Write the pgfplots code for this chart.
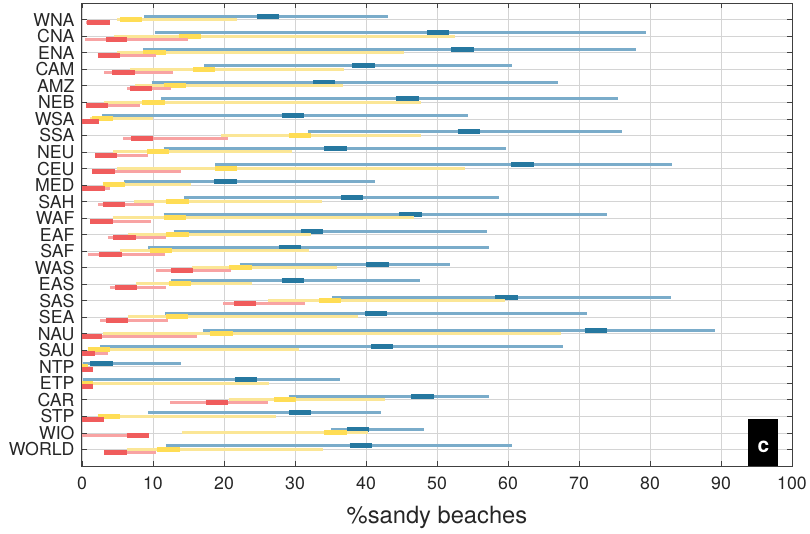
\documentclass[border=0pt]{standalone}
\usepackage{pgfplots}
\pgfplotsset{compat=1.18}
\usepackage{fontspec}
\setmainfont{TeX Gyre Heros}
\definecolor{bluelight}{RGB}{122,172,202}
\definecolor{bluedark}{RGB}{38,120,160}
\definecolor{yellowlight}{RGB}{251,230,150}
\definecolor{yellowdark}{RGB}{255,221,85}
\definecolor{redlight}{RGB}{248,163,163}
\definecolor{reddark}{RGB}{240,92,92}
\begin{document}
\begin{tikzpicture}
\path[use as bounding box] (-82bp,-68bp) rectangle (728bp,466bp);
\begin{axis}[
  at={(0,0)}, anchor=south west,
  scale only axis, width=710bp, height=462.7bp,
  xmin=0, xmax=100, ymin=0, ymax=28, y dir=reverse,
  xtick={0,10,...,100},
  ytick={1,...,27},
  yticklabels={WNA,CNA,ENA,CAM,AMZ,NEB,WSA,SSA,NEU,CEU,MED,SAH,WAF,EAF,SAF,WAS,EAS,SAS,SEA,NAU,SAU,NTP,ETP,CAR,STP,WIO,WORLD},
  xtick pos=both, ytick pos=both,
  xticklabel pos=bottom, yticklabel pos=left,
  tick align=inside, major tick length=5bp,
  tick style={black!75, line width=0.9bp},
  axis line style={black!75, line width=1bp},
  grid=major,
  major grid style={black!17, line width=0.9bp},
  /pgf/number format/assume math mode=true,
  ticklabel style={font=\fontsize{17.8}{18}\selectfont, text=black!85},
  xticklabel style={yshift=-7bp},
  yticklabel style={xshift=-4bp},
  xlabel={\%sandy beaches},
  xlabel style={at={(axis description cs:0.5,0)}, anchor=base, yshift=-57bp, font=\fontsize{23.8}{24}\selectfont, text=black!85},
  unbounded coords=jump,
]
% ---------- blue: thin range ----------
\addplot[bluelight, line width=3bp, mark=none] coordinates {
(8.7,0.78) (43.1,0.78) (nan,nan)
(10.3,1.78) (79.4,1.78) (nan,nan)
(8.6,2.78) (78.0,2.78) (nan,nan)
(17.2,3.78) (60.5,3.78) (nan,nan)
(9.8,4.78) (67.0,4.78) (nan,nan)
(11.1,5.78) (75.5,5.78) (nan,nan)
(2.8,6.78) (54.3,6.78) (nan,nan)
(31.9,7.78) (76.0,7.78) (nan,nan)
(11.5,8.78) (59.7,8.78) (nan,nan)
(18.8,9.78) (83.1,9.78) (nan,nan)
(5.9,10.78) (41.3,10.78) (nan,nan)
(14.4,11.78) (58.8,11.78) (nan,nan)
(11.5,12.78) (74.0,12.78) (nan,nan)
(12.9,13.78) (57.0,13.78) (nan,nan)
(9.3,14.78) (57.3,14.78) (nan,nan)
(22.2,15.78) (51.9,15.78) (nan,nan)
(12.5,16.78) (47.6,16.78) (nan,nan)
(35.2,17.78) (82.9,17.78) (nan,nan)
(11.7,18.78) (71.1,18.78) (nan,nan)
(17.1,19.78) (89.1,19.78) (nan,nan)
(2.6,20.78) (67.8,20.78) (nan,nan)
(0.2,21.78) (14.0,21.78) (nan,nan)
(0.1,22.78) (36.3,22.78) (nan,nan)
(29.1,23.78) (57.3,23.78) (nan,nan)
(9.3,24.78) (42.1,24.78) (nan,nan)
(35.1,25.78) (48.1,25.78) (nan,nan)
(11.8,26.78) (60.6,26.78)
};
% ---------- blue: thick segment ----------
\addplot[bluedark, line width=5bp, mark=none] coordinates {
(24.7,0.78) (27.8,0.78) (nan,nan)
(48.6,1.78) (51.7,1.78) (nan,nan)
(52.0,2.78) (55.2,2.78) (nan,nan)
(38.0,3.78) (41.2,3.78) (nan,nan)
(32.6,4.78) (35.6,4.78) (nan,nan)
(44.2,5.78) (47.4,5.78) (nan,nan)
(28.1,6.78) (31.3,6.78) (nan,nan)
(52.9,7.78) (56.1,7.78) (nan,nan)
(34.1,8.78) (37.3,8.78) (nan,nan)
(60.4,9.78) (63.6,9.78) (nan,nan)
(18.6,10.78) (21.8,10.78) (nan,nan)
(36.5,11.78) (39.6,11.78) (nan,nan)
(44.7,12.78) (47.9,12.78) (nan,nan)
(30.8,13.78) (33.9,13.78) (nan,nan)
(27.7,14.78) (30.9,14.78) (nan,nan)
(40.0,15.78) (43.2,15.78) (nan,nan)
(28.1,16.78) (31.3,16.78) (nan,nan)
(58.2,17.78) (61.4,17.78) (nan,nan)
(39.8,18.78) (42.9,18.78) (nan,nan)
(70.8,19.78) (73.9,19.78) (nan,nan)
(40.7,20.78) (43.8,20.78) (nan,nan)
(1.1,21.78) (4.3,21.78) (nan,nan)
(21.5,22.78) (24.6,22.78) (nan,nan)
(46.4,23.78) (49.6,23.78) (nan,nan)
(29.2,24.78) (32.3,24.78) (nan,nan)
(37.3,25.78) (40.4,25.78) (nan,nan)
(37.7,26.78) (40.9,26.78)
};
% ---------- yellow: thin range ----------
\addplot[yellowlight, line width=3bp, mark=none] coordinates {
(4.9,0.98) (21.8,0.98) (nan,nan)
(4.5,1.98) (52.5,1.98) (nan,nan)
(4.9,2.98) (45.3,2.98) (nan,nan)
(6.8,3.98) (36.9,3.98) (nan,nan)
(7.5,4.98) (36.8,4.98) (nan,nan)
(3.1,5.98) (47.8,5.98) (nan,nan)
(1.1,6.98) (10.0,6.98) (nan,nan)
(19.6,7.98) (47.8,7.98) (nan,nan)
(4.4,8.98) (29.6,8.98) (nan,nan)
(4.9,9.98) (54.0,9.98) (nan,nan)
(2.9,10.98) (15.3,10.98) (nan,nan)
(7.3,11.98) (33.8,11.98) (nan,nan)
(4.3,12.98) (46.7,12.98) (nan,nan)
(6.5,13.98) (32.3,13.98) (nan,nan)
(5.4,14.98) (32.0,14.98) (nan,nan)
(15.5,15.98) (35.9,15.98) (nan,nan)
(7.6,16.98) (24.0,16.98) (nan,nan)
(26.2,17.98) (59.6,17.98) (nan,nan)
(6.5,18.98) (38.9,18.98) (nan,nan)
(3.0,19.98) (67.4,19.98) (nan,nan)
(0.8,20.98) (30.6,20.98) (nan,nan)
(0.0,21.98) (0.9,21.98) (nan,nan)
(0.0,22.98) (26.3,22.98) (nan,nan)
(20.7,23.98) (42.7,23.98) (nan,nan)
(2.2,24.98) (27.3,24.98) (nan,nan)
(14.1,25.98) (40.3,25.98) (nan,nan)
(6.3,26.98) (33.9,26.98)
};
% ---------- yellow: thick segment ----------
\addplot[yellowdark, line width=5bp, mark=none] coordinates {
(5.4,0.98) (8.5,0.98) (nan,nan)
(13.6,1.98) (16.8,1.98) (nan,nan)
(8.6,2.98) (11.8,2.98) (nan,nan)
(15.7,3.98) (18.8,3.98) (nan,nan)
(11.5,4.98) (14.6,4.98) (nan,nan)
(8.5,5.98) (11.7,5.98) (nan,nan)
(1.4,6.98) (4.3,6.98) (nan,nan)
(29.1,7.98) (32.3,7.98) (nan,nan)
(9.2,8.98) (12.3,8.98) (nan,nan)
(18.7,9.98) (21.9,9.98) (nan,nan)
(2.9,10.98) (6.1,10.98) (nan,nan)
(11.8,11.98) (15.0,11.98) (nan,nan)
(11.5,12.98) (14.6,12.98) (nan,nan)
(11.8,13.98) (15.0,13.98) (nan,nan)
(9.6,14.98) (12.7,14.98) (nan,nan)
(20.7,15.98) (23.9,15.98) (nan,nan)
(12.2,16.98) (15.4,16.98) (nan,nan)
(33.4,17.98) (36.5,17.98) (nan,nan)
(11.8,18.98) (14.9,18.98) (nan,nan)
(18.0,19.98) (21.2,19.98) (nan,nan)
(0.8,20.98) (3.9,20.98) (nan,nan)
(0.0,21.98) (0.9,21.98) (nan,nan)
(0.0,22.98) (1.6,22.98) (nan,nan)
(27.1,23.98) (30.2,23.98) (nan,nan)
(2.2,24.98) (5.4,24.98) (nan,nan)
(34.1,25.98) (37.3,25.98) (nan,nan)
(10.5,26.98) (13.8,26.98)
};
% ---------- red: thin range ----------
\addplot[redlight, line width=3bp, mark=none] coordinates {
(0.6,1.18) (4.0,1.18) (nan,nan)
(0.4,2.18) (14.9,2.18) (nan,nan)
(2.2,3.18) (10.4,3.18) (nan,nan)
(3.1,4.18) (12.8,4.18) (nan,nan)
(6.4,5.18) (12.6,5.18) (nan,nan)
(0.6,6.18) (8.2,6.18) (nan,nan)
(0.0,7.18) (2.4,7.18) (nan,nan)
(5.8,8.18) (20.5,8.18) (nan,nan)
(1.8,9.18) (9.3,9.18) (nan,nan)
(1.4,10.18) (14.0,10.18) (nan,nan)
(0.0,11.18) (4.0,11.18) (nan,nan)
(2.3,12.18) (10.2,12.18) (nan,nan)
(1.1,13.18) (9.7,13.18) (nan,nan)
(3.6,14.18) (11.8,14.18) (nan,nan)
(0.9,15.18) (11.7,15.18) (nan,nan)
(10.4,16.18) (21.0,16.18) (nan,nan)
(3.9,17.18) (11.8,17.18) (nan,nan)
(19.9,18.18) (31.4,18.18) (nan,nan)
(2.6,19.18) (12.1,19.18) (nan,nan)
(0.0,20.18) (16.2,20.18) (nan,nan)
(0.0,21.18) (3.7,21.18) (nan,nan)
(0.0,22.18) (1.6,22.18) (nan,nan)
(0.0,23.18) (1.6,23.18) (nan,nan)
(12.4,24.18) (26.2,24.18) (nan,nan)
(0.0,25.18) (3.1,25.18) (nan,nan)
(0.0,26.18) (9.5,26.18) (nan,nan)
(3.1,27.18) (10.4,27.18)
};
% ---------- red: thick segment ----------
\addplot[reddark, line width=5bp, mark=none] coordinates {
(0.7,1.18) (3.9,1.18) (nan,nan)
(3.4,2.18) (6.4,2.18) (nan,nan)
(2.2,3.18) (5.4,3.18) (nan,nan)
(4.2,4.18) (7.4,4.18) (nan,nan)
(6.8,5.18) (9.9,5.18) (nan,nan)
(0.6,6.18) (3.7,6.18) (nan,nan)
(0.0,7.18) (2.4,7.18) (nan,nan)
(6.9,8.18) (10.0,8.18) (nan,nan)
(1.8,9.18) (5.0,9.18) (nan,nan)
(1.4,10.18) (4.6,10.18) (nan,nan)
(0.0,11.18) (3.2,11.18) (nan,nan)
(2.9,12.18) (6.1,12.18) (nan,nan)
(1.1,13.18) (4.3,13.18) (nan,nan)
(4.4,14.18) (7.6,14.18) (nan,nan)
(2.4,15.18) (5.6,15.18) (nan,nan)
(12.5,16.18) (15.7,16.18) (nan,nan)
(4.7,17.18) (7.8,17.18) (nan,nan)
(21.4,18.18) (24.5,18.18) (nan,nan)
(3.4,19.18) (6.5,19.18) (nan,nan)
(0.0,20.18) (2.8,20.18) (nan,nan)
(0.0,21.18) (1.8,21.18) (nan,nan)
(0.0,22.18) (1.6,22.18) (nan,nan)
(0.0,23.18) (1.6,23.18) (nan,nan)
(17.4,24.18) (20.6,24.18) (nan,nan)
(0.0,25.18) (3.1,25.18) (nan,nan)
(6.3,26.18) (9.5,26.18) (nan,nan)
(3.1,27.18) (6.3,27.18)
};
% ---------- panel label ----------
\fill[black] (axis cs:93.85,25.15) rectangle (axis cs:98.07,28);
\node[anchor=base, text=white, inner sep=0pt, font=\fontsize{21}{22}\selectfont\bfseries] at (axis cs:95.96,27.19) {c};
\end{axis}
\end{tikzpicture}
\end{document}
